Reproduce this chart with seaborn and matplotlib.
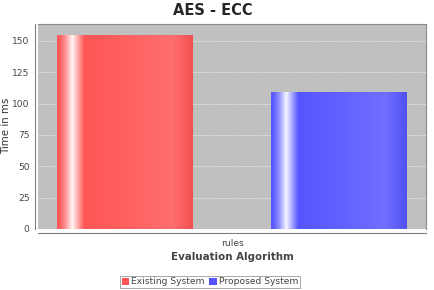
import numpy as np
import pandas as pd
import matplotlib
matplotlib.use("Agg")
import matplotlib.pyplot as plt
import seaborn as sns
from matplotlib.colors import to_rgb

categories = ["rules"]
series = ["Existing System", "Proposed System"]
values = [155, 109]
colors = ["#FF5555", "#5555FF"]
yticks = [0, 25, 50, 75, 100, 125, 150]

df = pd.DataFrame({"cat": categories * len(series), "series": series, "val": values})

sns.set_style("white")
plt.rcParams["font.family"] = ["DejaVu Sans"]

fig = plt.figure(figsize=(4.35, 2.9), dpi=100)
ax = fig.add_axes([38/435, 1-229/290, (426-38)/435, (229-24)/290])
ax.set_facecolor("#C0C0C0")

sns.barplot(data=df, x="cat", y="val", hue="series", palette=colors,
            width=1.1, gap=0.364, ax=ax, legend=True, saturation=1, linewidth=0)

# gradient overlay on bars
def grad(base):
    b = np.array(to_rgb(base))
    w = np.ones(3)
    xs = np.linspace(0, 1, 200)
    out = []
    for x in xs:
        if x < 0.11:
            t = x / 0.11
            c = b + (w - b) * (t ** 1.5) * 0.95
        elif x < 0.2:
            t = (x - 0.11) / 0.09
            c = w * 0.95 + b * 0.05 + (b - (w * 0.95 + b * 0.05)) * t
        elif x < 0.85:
            t = (x - 0.2) / 0.65
            c = b + (w - b) * 0.15 * t
        else:
            t = (x - 0.85) / 0.15
            c = b + (w - b) * 0.15 * (1 - t) - b * 0.05 * t
        out.append(np.clip(c, 0, 1))
    return np.array(out)[None, :, :]

for patch, col in zip(ax.patches[:len(series)], colors):
    patch.set_edgecolor("none")
    patch.set_linewidth(0)
    x0, y0 = patch.get_x(), patch.get_y()
    w, h = patch.get_width(), patch.get_height()
    im = ax.imshow(grad(col), extent=[x0, x0 + w, y0, y0 + h], aspect="auto",
                   zorder=patch.get_zorder() + 0.1, interpolation="bilinear")
    im.set_clip_path(patch)

ax.set_xlim(-0.5, 0.5)
ax.set_ylim(0, 163.5)
ax.set_yticks(yticks)
ax.set_yticklabels([str(v) for v in yticks])
ax.grid(axis="y", color="#E8E8E8", linestyle=(0, (4, 1)), linewidth=0.5, alpha=0.9)
ax.set_axisbelow(True)

for s in ["top", "right"]:
    ax.spines[s].set_color("#8A8A8A")
    ax.spines[s].set_linewidth(0.8)
ax.spines["left"].set_position(("outward", 2))
ax.spines["bottom"].set_position(("outward", 3))
for s in ["left", "bottom"]:
    ax.spines[s].set_color("#808080")
    ax.spines[s].set_linewidth(0.8)

ax.tick_params(axis="both", labelsize=6.6, colors="#555555", length=2, width=0.6, pad=2)
ax.tick_params(axis="y", labelcolor="#444444")
ax.tick_params(axis="x", labelcolor="#444444")

ax.set_xlabel("Evaluation Algorithm", fontsize=7.4, fontweight="bold", color="#444444", labelpad=3)
ax.set_ylabel("")
fig.text(6/435, 1-126/290, "Time in ms", rotation=90, ha="center", va="center",
         fontsize=7.4, color="#333333")
fig.text(0.49, 0.965, "AES - ECC", ha="center", va="center", fontsize=10.5, fontweight="bold")

leg = ax.legend(loc="center", bbox_to_anchor=(210/435, 1-282/290), bbox_transform=fig.transFigure,
                ncol=2, fontsize=6.6, frameon=True, fancybox=False, handlelength=0.8, handleheight=0.9,
                handletextpad=0.25, columnspacing=0.5, borderpad=0.2, borderaxespad=0)
leg.get_frame().set_edgecolor("#808080")
leg.get_frame().set_linewidth(0.6)
for t in leg.get_texts():
    t.set_color("#444444")
for h in leg.legend_handles:
    h.set_edgecolor("none")

fig.savefig("out.png", dpi=100)
